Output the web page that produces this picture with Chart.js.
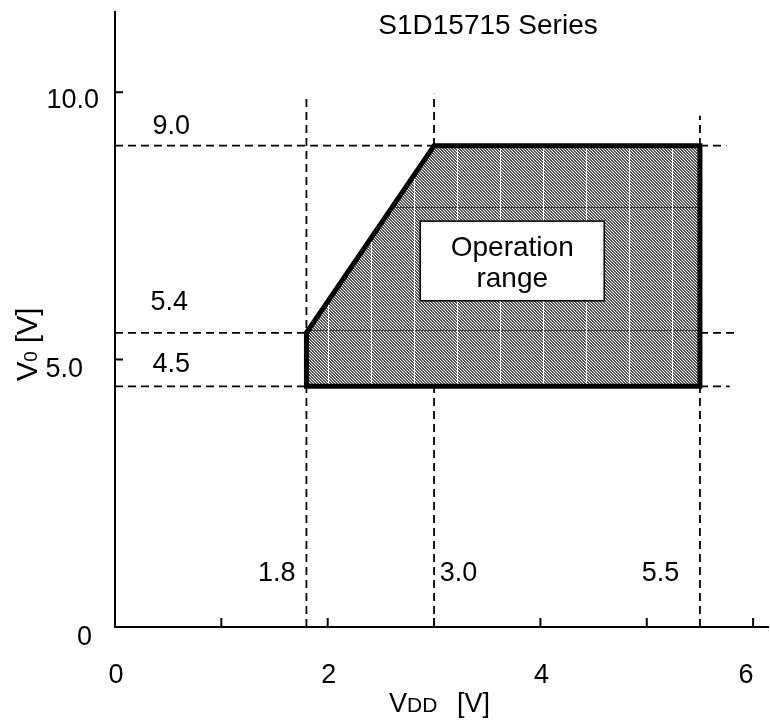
<!DOCTYPE html>
<html>
<head>
<meta charset="utf-8">
<script src="https://cdn.jsdelivr.net/npm/chart.js@4.4.0/dist/chart.umd.min.js"></script>
<style>
body { margin: 0; background: #fff; }
#wrap { width: 770px; height: 720px; }
</style>
</head>
<body>
<div id="wrap"><canvas id="chart1"></canvas></div>
<script>
// operation range outline (VDD, V0), closed
var rangeVdd = [1.8, 1.8, 3.0, 5.5, 5.5, 1.8];
var rangeV0 = [4.5, 5.5, 9.0, 9.0, 4.5, 4.5];

// dashed guide lines: horizontal at V0 values, vertical at VDD values
var guideV0 = [9.0, 5.5, 4.5];
var guideV0End = [5.75, 5.83, 5.78];
var guideVdd = [1.8, 3.0, 5.5];
var guideVddEnd = [9.95, 9.97, 9.56];

var xTicks = [0, 1, 2, 3, 4, 5, 6];
var xTickLabels = ['0', '', '2', '', '4', '', '6'];
var yTicks = [0, 5, 10];
var yTickLabels = ['0', '5.0', '10.0'];

var markLabels = ['9.0', '5.4', '4.5', '1.8', '3.0', '5.5'];

var FONT = '"Liberation Sans", Arial, sans-serif';

function makeHatch() {
    var c = document.createElement('canvas');
    c.width = 43;
    c.height = 123;
    var g = c.getContext('2d');
    var img = g.createImageData(43, 123);
    for (var y = 0; y < 123; y++) {
        for (var x = 0; x < 43; x++) {
            var v = ((x - y) % 3 + 3) % 3 == 2 ? 255 : 85;
            if (y == 0) v = 60;
            if (x == 0) v = 255;
            var i = (y * 43 + x) * 4;
            img.data[i] = v;
            img.data[i + 1] = v;
            img.data[i + 2] = v;
            img.data[i + 3] = 255;
        }
    }
    g.putImageData(img, 0, 0);
    var p = g.createPattern(c, 'repeat');
    p.setTransform(new DOMMatrix().translate(27, 84));
    return p;
}

var extras = {
    id: 'extras',
    afterDraw: function(chart) {
        var ctx = chart.ctx;
        var xs = chart.scales.x, ys = chart.scales.y;
        var area = chart.chartArea;
        ctx.save();
        ctx.strokeStyle = '#000';
        ctx.fillStyle = '#000';
        ctx.lineWidth = 2;

        // inward tick marks
        ctx.beginPath();
        xTicks.forEach(function(v) {
            var px = xs.getPixelForValue(v);
            ctx.moveTo(px, area.bottom);
            ctx.lineTo(px, area.bottom - 9);
        });
        yTicks.forEach(function(v) {
            var py = ys.getPixelForValue(v);
            ctx.moveTo(area.left, py);
            ctx.lineTo(area.left + 8, py);
        });
        ctx.stroke();

        // tick labels
        ctx.font = '27px ' + FONT;
        ctx.textBaseline = 'middle';
        ctx.textAlign = 'center';
        xTicks.forEach(function(v, i) {
            if (!xTickLabels[i]) return;
            var dx = v == 6 ? -7 : 1;
            ctx.fillText(xTickLabels[i], xs.getPixelForValue(v) + dx, area.bottom + 49);
        });
        ctx.textAlign = 'right';
        var yOff = [[-23, 11], [-32, 10], [-16, 8]];
        yTicks.forEach(function(v, i) {
            ctx.fillText(yTickLabels[i], area.left + yOff[i][0], ys.getPixelForValue(v) + yOff[i][1]);
        });

        // value labels next to guide lines
        var markPos = [[0.53, 9.35], [0.51, 6.06], [0.53, 4.9], [1.52, 1.0], [3.23, 1.0], [5.13, 1.0]];
        ctx.textAlign = 'center';
        markLabels.forEach(function(t, i) {
            ctx.fillText(t, xs.getPixelForValue(markPos[i][0]), ys.getPixelForValue(markPos[i][1]));
        });

        // "Operation range" box
        var bx1 = xs.getPixelForValue(2.87), bx2 = xs.getPixelForValue(4.6);
        var by1 = ys.getPixelForValue(7.59), by2 = ys.getPixelForValue(6.1);
        ctx.fillStyle = '#fff';
        ctx.fillRect(bx1, by1, bx2 - bx1, by2 - by1);
        ctx.lineWidth = 1.5;
        ctx.strokeRect(bx1, by1, bx2 - bx1, by2 - by1);
        ctx.fillStyle = '#000';
        ctx.font = '28px ' + FONT;
        ctx.fillText('Operation', (bx1 + bx2) / 2, by1 + 27);
        ctx.fillText('range', (bx1 + bx2) / 2, by1 + 58);

        // title
        ctx.fillText('S1D15715 Series', 488, 26);

        // x axis title: VDD [V]
        ctx.textAlign = 'left';
        ctx.textBaseline = 'alphabetic';
        ctx.font = '27px ' + FONT;
        ctx.fillText('V', 389, 712);
        var w = ctx.measureText('V').width;
        ctx.font = '21px ' + FONT;
        ctx.fillText('DD', 389 + w, 712);
        ctx.font = '27px ' + FONT;
        ctx.fillText('[V]', 457, 712);

        // y axis title: V0 [V]
        ctx.translate(37, 381);
        ctx.rotate(-Math.PI / 2);
        ctx.font = '29px ' + FONT;
        ctx.fillText('V', 0, 0);
        w = ctx.measureText('V').width;
        ctx.font = '19px ' + FONT;
        ctx.fillText('0', w, 0);
        w += ctx.measureText('0').width;
        ctx.font = '29px ' + FONT;
        ctx.fillText(' [V]', w, 0);
        ctx.restore();
    }
};

function makeChart() {
    var datasets = [{
        data: rangeVdd.map(function(v, i) { return { x: v, y: rangeV0[i] }; }),
        borderColor: '#000',
        borderWidth: 5,
        borderJoinStyle: 'miter',
        borderCapStyle: 'square',
        backgroundColor: makeHatch(),
        fill: 'shape',
        pointRadius: 0,
        tension: 0,
        order: 0
    }];
    guideV0.forEach(function(v, i) {
        datasets.push({
            data: [{ x: 0, y: v }, { x: guideV0End[i], y: v }],
            borderColor: '#000', borderWidth: 1.8, borderDash: [8, 5],
            pointRadius: 0, fill: false, order: 1
        });
    });
    guideVdd.forEach(function(v, i) {
        datasets.push({
            data: [{ x: v, y: 0 }, { x: v, y: guideVddEnd[i] }],
            borderColor: '#000', borderWidth: 1.8, borderDash: [8, 5],
            pointRadius: 0, fill: false, order: 1
        });
    });

    var ctx1 = document.getElementById('chart1').getContext('2d');
    new Chart(ctx1, {
        type: 'line',
        data: { datasets: datasets },
        options: {
            responsive: true,
            maintainAspectRatio: false,
            animation: false,
            layout: { padding: { left: 115, right: 2, top: 12, bottom: 93 } },
            plugins: {
                legend: { display: false },
                tooltip: { enabled: false },
                title: { display: false }
            },
            scales: {
                x: {
                    type: 'linear', min: 0, max: 6.14,
                    grid: { display: false, drawTicks: false },
                    ticks: { display: false },
                    border: { display: true, color: '#000', width: 2 }
                },
                y: {
                    type: 'linear', min: 0, max: 11.5,
                    grid: { display: false, drawTicks: false },
                    ticks: { display: false },
                    border: { display: true, color: '#000', width: 2 }
                }
            }
        },
        plugins: [extras]
    });
}

window.onload = function() {
    makeChart();
};
</script>
</body>
</html>
